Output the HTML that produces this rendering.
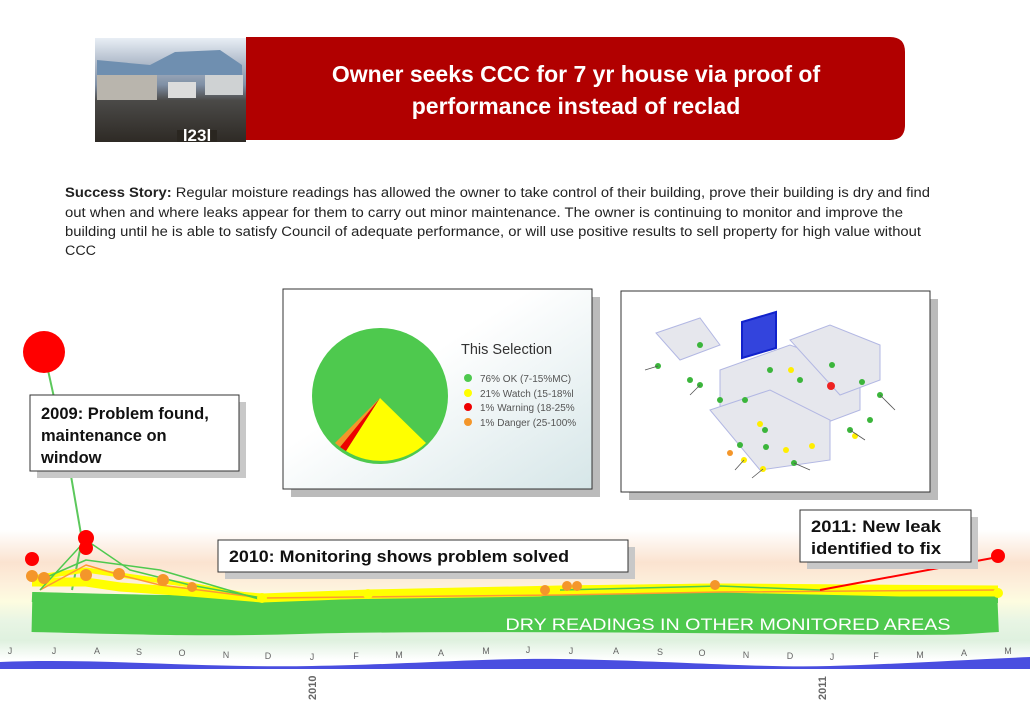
<!DOCTYPE html>
<html><head><meta charset="utf-8"><style>
html,body{margin:0;padding:0;background:#fff;}
svg{display:block;font-family:"Liberation Sans",sans-serif;}
</style></head><body>
<svg width="1030" height="713" viewBox="0 0 1030 713" xmlns="http://www.w3.org/2000/svg">
<defs>
<linearGradient id="bg" x1="0" y1="0" x2="0" y2="1">
<stop offset="0" stop-color="#fff"/>
<stop offset="0.25" stop-color="#fbe3d0"/>
<stop offset="0.42" stop-color="#fdf0dc"/>
<stop offset="0.55" stop-color="#fdfce0"/>
<stop offset="0.7" stop-color="#e8f5e4"/>
<stop offset="0.85" stop-color="#dff1df"/>
<stop offset="1" stop-color="#fff"/>
</linearGradient>
<linearGradient id="sky" x1="0" y1="0" x2="0" y2="1">
<stop offset="0" stop-color="#e8eef5"/><stop offset="0.45" stop-color="#7f8fa5"/><stop offset="0.6" stop-color="#4b4a48"/><stop offset="1" stop-color="#2e2a25"/>
</linearGradient>
<linearGradient id="pbg" x1="0" y1="0" x2="1" y2="1">
<stop offset="0.4" stop-color="#fff"/><stop offset="1" stop-color="#d6e6e8"/>
</linearGradient>
</defs>

<rect x="95" y="38" width="151" height="104" fill="url(#sky)"/>
<polygon points="97,60 150,65 175,52 220,50 242,65 242,75 97,75" fill="#6f8fb0"/>
<rect x="97" y="75" width="60" height="25" fill="#b9b5ad"/>
<rect x="168" y="82" width="28" height="16" fill="#dcdcdc"/>
<rect x="205" y="75" width="38" height="20" fill="#cfd2d3"/>
<rect x="177" y="130" width="40" height="12" fill="#2a2620"/>
<text x="197" y="141" font-size="17" font-weight="bold" fill="#fff" text-anchor="middle">l23l</text>

<path d="M246,37 H890 Q905,37 905,52 V125 Q905,140 890,140 H246 Z" fill="#b10000"/>
<text x="576" y="82" font-size="23" font-weight="bold" fill="#fff" text-anchor="middle">Owner seeks CCC for 7 yr house via proof of</text>
<text x="576" y="114" font-size="23" font-weight="bold" fill="#fff" text-anchor="middle">performance instead of reclad</text>

<g font-size="13.5" fill="#222">
<text x="65" y="197" textLength="865" lengthAdjust="spacingAndGlyphs"><tspan font-weight="bold">Success Story:</tspan> Regular moisture readings has allowed the owner to take control of their building, prove their building is dry and find</text>
<text x="65" y="217" textLength="838" lengthAdjust="spacingAndGlyphs">out when and where leaks appear for them to carry out minor maintenance. The owner is continuing to monitor and improve the</text>
<text x="65" y="236" textLength="856" lengthAdjust="spacingAndGlyphs">building until he is able to satisfy Council of adequate performance, or will use positive results to sell property for high value without</text>
<text x="65" y="255" textLength="31" lengthAdjust="spacingAndGlyphs">CCC</text>
</g>

<rect x="0" y="530" width="1030" height="130" fill="url(#bg)"/>

<polyline points="44,352 70,470 82,540 72,590" fill="none" stroke="#5cc85c" stroke-width="2"/>
<circle cx="44" cy="352" r="21" fill="#f00"/>

<rect x="291" y="297" width="309" height="200" fill="#bbb"/>
<rect x="283" y="289" width="309" height="200" fill="url(#pbg)" stroke="#333" stroke-width="1"/>
<circle cx="380" cy="396" r="68" fill="#4ec94e"/>
<path d="M380,398 L426,443 A66,66 0 0 1 346,451 Z" fill="#ffff00"/>
<path d="M380,398 L346,451 A66,66 0 0 1 340,447 Z" fill="#e00"/>
<path d="M380,398 L340,447 A66,66 0 0 1 335,443 Z" fill="#f4962a"/>
<text x="461" y="354" font-size="14.5" fill="#333">This Selection</text>
<g font-size="10" fill="#555">
<circle cx="468" cy="378" r="4" fill="#4ec94e"/><text x="480" y="382">76% OK (7-15%MC)</text>
<circle cx="468" cy="393" r="4" fill="#ffff00"/><text x="480" y="397">21% Watch (15-18%l</text>
<circle cx="468" cy="407" r="4" fill="#e00"/><text x="480" y="411">1% Warning (18-25%</text>
<circle cx="468" cy="422" r="4" fill="#f4962a"/><text x="480" y="426">1% Danger (25-100%</text>
</g>

<rect x="629" y="299" width="309" height="201" fill="#bbb"/>
<rect x="621" y="291" width="309" height="201" fill="#fff" stroke="#333" stroke-width="1"/>
<g fill="#e4e5ec" stroke="#aab0e0" stroke-width="1" opacity="0.9">
<polygon points="656,333 700,318 720,345 680,360"/>
<polygon points="720,370 790,345 860,370 860,410 780,440 720,410"/>
<polygon points="790,340 830,325 880,345 880,380 840,395"/>
<polygon points="710,410 770,390 830,420 830,460 760,470"/>
</g>
<polygon points="742,322 776,312 776,348 742,358" fill="#3344dd" stroke="#1122cc" stroke-width="2"/>
<g fill="#3bb53b">
<circle cx="658" cy="366" r="3"/><circle cx="700" cy="345" r="3"/><circle cx="700" cy="385" r="3"/>
<circle cx="720" cy="400" r="3"/><circle cx="745" cy="400" r="3"/><circle cx="765" cy="430" r="3"/>
<circle cx="800" cy="380" r="3"/><circle cx="832" cy="365" r="3"/><circle cx="862" cy="382" r="3"/>
<circle cx="880" cy="395" r="3"/><circle cx="870" cy="420" r="3"/><circle cx="850" cy="430" r="3"/>
<circle cx="794" cy="463" r="3"/><circle cx="766" cy="447" r="3"/><circle cx="740" cy="445" r="3"/>
<circle cx="690" cy="380" r="3"/><circle cx="770" cy="370" r="3"/></g>
<g fill="#ffee00"><circle cx="791" cy="370" r="3"/><circle cx="763" cy="469" r="3"/><circle cx="744" cy="460" r="3"/><circle cx="786" cy="450" r="3"/><circle cx="812" cy="446" r="3"/><circle cx="760" cy="424" r="3"/><circle cx="855" cy="436" r="3"/></g>
<circle cx="831" cy="386" r="4" fill="#e22"/><circle cx="730" cy="453" r="3" fill="#f4962a"/>
<g stroke="#555" stroke-width="0.8">
<line x1="658" y1="366" x2="645" y2="370"/><line x1="700" y1="385" x2="690" y2="395"/><line x1="880" y1="395" x2="895" y2="410"/><line x1="850" y1="430" x2="865" y2="440"/><line x1="794" y1="463" x2="810" y2="470"/><line x1="763" y1="469" x2="752" y2="478"/><line x1="744" y1="460" x2="735" y2="470"/>
</g>

<g fill="none" stroke-linejoin="round">
<path d="M32,612 C120,614 200,617 300,614 S600,612 800,614 S950,614 998,612" stroke="#4ec94e" stroke-width="40"/>
<path d="M32,597 C100,600 200,602 300,600 S600,594 800,598 S950,598 998,598" stroke="#4ec94e" stroke-width="10"/>
<path d="M32,582 L86,582 L120,587 L190,592 L262,598 L368,594 L560,590 L720,588 L900,592 L998,592" stroke="#ffff00" stroke-width="9"/>
<path d="M32,578 L86,570 L120,575 L190,585 L262,598 L540,594 L570,588 L720,586 L998,588" stroke="#ffff00" stroke-width="5"/>
<path d="M40,590 L86,565 L120,575 L160,585 L262,598 L560,595 L720,592 L998,590" stroke="#ff9a30" stroke-width="1.5"/>
<path d="M40,590 L86,540 L130,570 L190,585 L262,598" stroke="#4ec94e" stroke-width="1.5"/>
<path d="M40,580 L86,560 L160,570 L262,600 M560,590 L720,586 L820,590" stroke="#4ec94e" stroke-width="1.5"/>
<path d="M820,590 L998,557" stroke="#f00" stroke-width="2"/>
</g>
<g fill="#f4962a">
<circle cx="32" cy="576" r="6"/><circle cx="44" cy="578" r="6"/><circle cx="86" cy="575" r="6"/><circle cx="119" cy="574" r="6"/><circle cx="163" cy="580" r="6"/><circle cx="192" cy="587" r="5"/><circle cx="545" cy="590" r="5"/><circle cx="567" cy="586" r="5"/><circle cx="577" cy="586" r="5"/><circle cx="715" cy="585" r="5"/>
</g>
<g fill="#ffff00"><circle cx="262" cy="598" r="5"/><circle cx="368" cy="594" r="5"/><circle cx="998" cy="593" r="5"/></g>
<circle cx="32" cy="559" r="7" fill="#f00"/>
<circle cx="86" cy="538" r="8" fill="#f00"/><circle cx="86" cy="548" r="7" fill="#f00"/>
<circle cx="998" cy="556" r="7" fill="#f00"/>
<text x="728" y="630" font-size="17" fill="#fff" text-anchor="middle" textLength="445" lengthAdjust="spacingAndGlyphs">DRY READINGS IN OTHER MONITORED AREAS</text>

<g font-size="9" fill="#666" text-anchor="middle">
<text x="10" y="654">J</text><text x="54" y="654">J</text><text x="97" y="654">A</text><text x="139" y="655">S</text><text x="182" y="656">O</text><text x="226" y="658">N</text><text x="268" y="659">D</text><text x="312" y="660">J</text><text x="356" y="659">F</text><text x="399" y="658">M</text><text x="441" y="656">A</text><text x="486" y="654">M</text><text x="528" y="653">J</text><text x="571" y="654">J</text><text x="616" y="654">A</text><text x="660" y="655">S</text><text x="702" y="656">O</text><text x="746" y="658">N</text><text x="790" y="659">D</text><text x="832" y="660">J</text><text x="876" y="659">F</text><text x="920" y="658">M</text><text x="964" y="656">A</text><text x="1008" y="654">M</text>
</g>
<path d="M0,662 C100,658 200,668 312,666 C420,664 480,658 560,659 C680,661 760,668 830,666 C900,664 960,660 1030,657 L1030,669 L0,669 Z" fill="#4a4ee0"/>
<g font-size="11" font-weight="bold" fill="#666">
<text transform="translate(316,700) rotate(-90)">2010</text>
<text transform="translate(826,700) rotate(-90)">2011</text>
</g>

<g font-weight="bold" fill="#111">
<rect x="37" y="402" width="209" height="76" fill="#c8c8c8"/>
<rect x="30" y="395" width="209" height="76" fill="#fff" stroke="#333"/>
<text x="41" y="419" font-size="16.5">2009: Problem found,</text>
<text x="41" y="441" font-size="16.5">maintenance on</text>
<text x="41" y="463" font-size="16.5">window</text>

<rect x="225" y="547" width="410" height="32" fill="#c8c8c8"/>
<rect x="218" y="540" width="410" height="32" fill="#fff" stroke="#333"/>
<text x="229" y="562" font-size="16.5" textLength="340" lengthAdjust="spacingAndGlyphs">2010: Monitoring shows problem solved</text>

<rect x="807" y="517" width="171" height="52" fill="#c8c8c8"/>
<rect x="800" y="510" width="171" height="52" fill="#fff" stroke="#333"/>
<text x="811" y="532" font-size="16.5" textLength="130" lengthAdjust="spacingAndGlyphs">2011: New leak</text>
<text x="811" y="554" font-size="16.5" textLength="130" lengthAdjust="spacingAndGlyphs">identified to fix</text>
</g>
</svg>
</body></html>
